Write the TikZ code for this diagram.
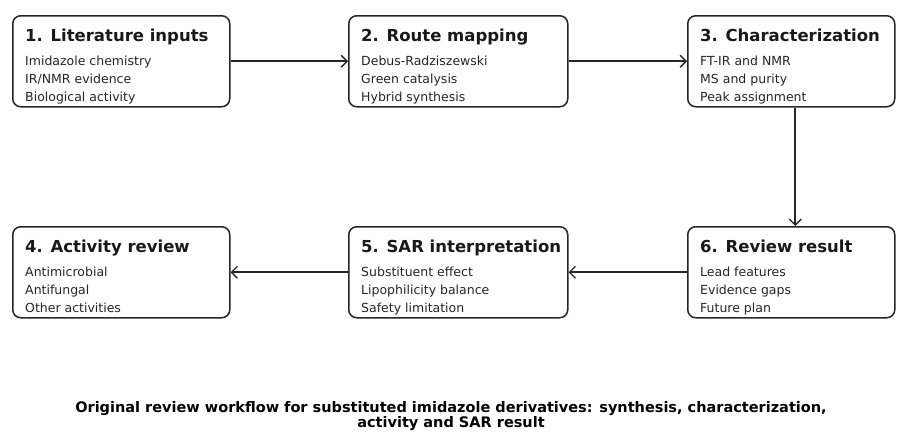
\documentclass[tikz,border=0pt]{standalone}
\usepackage{fontspec}
\setmainfont{DejaVu Sans}
\usepackage{tikz}
\usetikzlibrary{arrows.meta,positioning}

% one workflow card: name, left x, top y, width, title, two lines
\newcommand{\flowcard}[7]{
    \node[card, minimum width=#4pt, anchor=north west] (#1) at (#2,#3) {};
    \node[cardtitle] (#1-title) at ([xshift=13pt,yshift=-26pt]#1.north west) {#5};
    \node[cardline] (#1-a) at ([xshift=13pt,yshift=-50pt]#1.north west) {#6};
    \node[cardline] (#1-b) at ([xshift=13pt,yshift=-68pt]#1.north west) {#7};
}

\begin{document}
\begin{tikzpicture}[x=1pt, y=-1pt,
        card/.style={draw=black!85, line width=1.5pt, rounded corners=8pt,
            minimum height=91pt, inner sep=0pt, fill=white},
        cardtitle/.style={anchor=base west, inner sep=0pt, font=\fontsize{16.5}{18}\selectfont\bfseries, text=black!90},
        cardline/.style={anchor=base west, inner sep=0pt, font=\fontsize{12.5}{14}\selectfont, text=black!85},
        flow/.style={draw=black!85, line width=1.8pt, -{Straight Barb[length=6pt,width=12pt,line width=1.4pt]}},
        caption/.style={font=\fontsize{14.5}{15}\selectfont\bfseries, align=center, inner sep=0pt}]

    \useasboundingbox (0,0) rectangle (897,434);

    \flowcard{b1}{12}{15}{217}{1. Literature inputs}{Imidazole chemistry}{IR/NMR evidence}
    \node[cardline] (b1-c) at ([xshift=13pt,yshift=-86pt]b1.north west) {Biological activity};
    \flowcard{b2}{348}{15}{219}{2. Route mapping}{Debus-Radziszewski}{Green catalysis}
    \node[cardline] (b2-c) at ([xshift=13pt,yshift=-86pt]b2.north west) {Hybrid synthesis};
    \flowcard{b3}{687}{15}{207}{3. Characterization}{FT-IR and NMR}{MS and purity}
    \node[cardline] (b3-c) at ([xshift=13pt,yshift=-86pt]b3.north west) {Peak assignment};

    \flowcard{b4}{12}{226}{217}{4. Activity review}{Antimicrobial}{Antifungal}
    \node[cardline] (b4-c) at ([xshift=13pt,yshift=-86pt]b4.north west) {Other activities};
    \flowcard{b5}{348}{226}{219}{5. SAR interpretation}{Substituent effect}{Lipophilicity balance}
    \node[cardline] (b5-c) at ([xshift=13pt,yshift=-86pt]b5.north west) {Safety limitation};
    \flowcard{b6}{687}{226}{207}{6. Review result}{Lead features}{Evidence gaps}
    \node[cardline] (b6-c) at ([xshift=13pt,yshift=-86pt]b6.north west) {Future plan};

    \draw[flow] (b1.east) -- (b2.west);
    \draw[flow] (b2.east) -- (b3.west);
    \draw[flow] ([xshift=4pt]b3.south) -- ([xshift=4pt]b6.north);
    \draw[flow] (b6.west) -- (b5.east);
    \draw[flow] (b5.west) -- (b4.east);

    \node[caption] (cap) at (451,416) {Original review workflow for substituted imidazole derivatives: synthesis, characterization,\\activity and SAR result};

\end{tikzpicture}
\end{document}
